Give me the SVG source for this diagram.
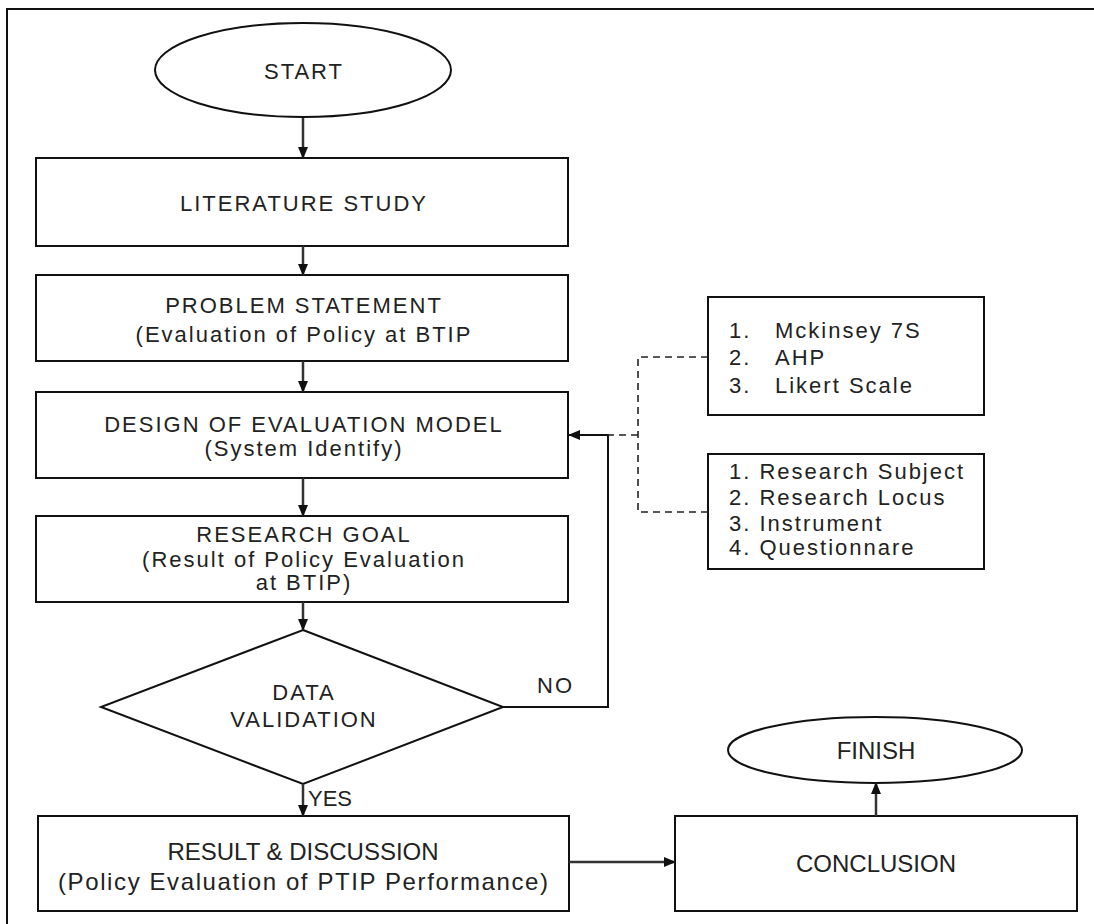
<svg xmlns="http://www.w3.org/2000/svg" width="1094" height="924" viewBox="0 0 1094 924">
<style>
.bg{fill:#fff}
.node{fill:#fff;stroke:#111;stroke-width:2}
.t{font-family:"Liberation Sans",Arial,sans-serif;font-size:22px;fill:#222;letter-spacing:2px;text-anchor:middle}
.l{font-family:"Liberation Sans",Arial,sans-serif;font-size:22px;fill:#222;letter-spacing:2px}
.b{font-family:"Liberation Sans",Arial,sans-serif;font-size:24px;fill:#222;text-anchor:middle}
.c{fill:none;stroke:#333;stroke-width:2.5}
.thin{fill:none;stroke:#111;stroke-width:2}
.d{fill:none;stroke:#222;stroke-width:1.6;stroke-dasharray:7,5}
</style>
<defs>
<marker id="ah" markerWidth="12" markerHeight="12" refX="11" refY="6" orient="auto" markerUnits="userSpaceOnUse">
<path d="M0,1 L12,6 L0,11 z" fill="#111"/>
</marker>
</defs>
<rect class="bg" x="0" y="0" width="1094" height="924"/>
<path d="M7,924 L7,9 L1094,9" fill="none" stroke="#111" stroke-width="2"/>

<g id="start">
<ellipse class="node" cx="303" cy="70" rx="148" ry="47"/>
<text class="t" x="304" y="79">START</text>
</g>
<g id="literature">
<rect class="node" x="36" y="158" width="532" height="88"/>
<text class="t" x="304" y="211">LITERATURE STUDY</text>
</g>
<g id="problem">
<rect class="node" x="36" y="275" width="532" height="86"/>
<text class="t" x="304" y="313">PROBLEM STATEMENT</text>
<text class="t" x="304" y="342">(Evaluation of Policy at BTIP</text>
</g>
<g id="design">
<rect class="node" x="36" y="392" width="532" height="86"/>
<text class="t" x="304" y="432">DESIGN OF EVALUATION MODEL</text>
<text class="t" x="304" y="456">(System Identify)</text>
</g>
<g id="goal">
<rect class="node" x="36" y="516" width="532" height="86"/>
<text class="t" x="304" y="542">RESEARCH GOAL</text>
<text class="t" x="304" y="567">(Result of Policy Evaluation</text>
<text class="t" x="304" y="590">at BTIP)</text>
</g>
<g id="validation">
<polygon class="node" points="303,630 503,707 303,784 101,707"/>
<text class="t" x="304" y="700">DATA</text>
<text class="t" x="304" y="727">VALIDATION</text>
</g>
<g id="methods">
<rect class="node" x="708" y="297" width="276" height="118"/>
<text class="l" x="729" y="338">1.</text><text class="l" x="775" y="338">Mckinsey 7S</text>
<text class="l" x="729" y="365">2.</text><text class="l" x="775" y="365">AHP</text>
<text class="l" x="729" y="393">3.</text><text class="l" x="775" y="393">Likert Scale</text>
</g>
<g id="research">
<rect class="node" x="708" y="454" width="276" height="115"/>
<text class="l" x="729" y="479">1. Research Subject</text>
<text class="l" x="729" y="505">2. Research Locus</text>
<text class="l" x="729" y="531">3. Instrument</text>
<text class="l" x="729" y="555">4. Questionnare</text>
</g>
<g id="result">
<rect class="node" x="38" y="816" width="531" height="95"/>
<text class="b" x="303" y="860">RESULT &amp; DISCUSSION</text>
<text class="b" x="303" y="890" textLength="490" lengthAdjust="spacing">(Policy Evaluation of PTIP Performance)</text>
</g>
<g id="conclusion">
<rect class="node" x="675" y="816" width="402" height="95"/>
<text class="b" x="876" y="872">CONCLUSION</text>
</g>
<g id="finish">
<ellipse class="node" cx="875" cy="750" rx="147" ry="33"/>
<text class="b" x="876" y="759">FINISH</text>
</g>

<g id="connectors">
<line class="c" x1="303" y1="118" x2="303" y2="158" marker-end="url(#ah)"/>
<line class="c" x1="303" y1="246" x2="303" y2="275" marker-end="url(#ah)"/>
<line class="c" x1="303" y1="361" x2="303" y2="392" marker-end="url(#ah)"/>
<line class="c" x1="303" y1="478" x2="303" y2="516" marker-end="url(#ah)"/>
<line class="c" x1="303" y1="602" x2="303" y2="630" marker-end="url(#ah)"/>
<line class="c" x1="303" y1="784" x2="303" y2="816" marker-end="url(#ah)"/>
<line class="c" x1="569" y1="862" x2="675" y2="862" marker-end="url(#ah)"/>
<line class="c" x1="876" y1="816" x2="876" y2="783" marker-end="url(#ah)"/>
<polyline class="thin" points="503,707 608,707 608,435 569,435" marker-end="url(#ah)"/>
<polyline class="d" points="708,357 638,357 638,512 708,512"/>
<line class="d" x1="638" y1="435" x2="608" y2="435"/>
<text class="l" x="537" y="693">NO</text>
<text class="l" x="308" y="806" style="letter-spacing:0">YES</text>
</g>
</svg>
